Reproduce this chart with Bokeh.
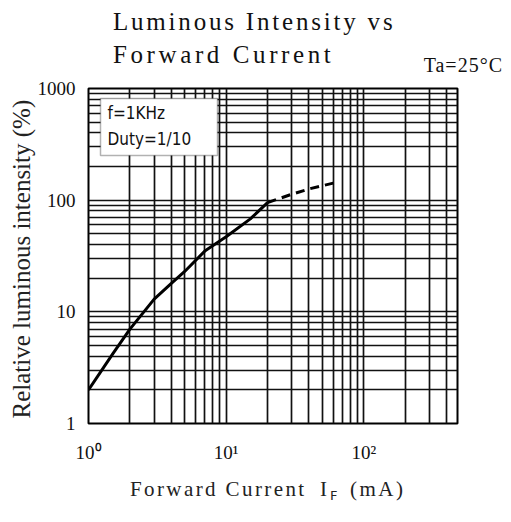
from bokeh.plotting import figure
from bokeh.models import FixedTicker, Label, BoxAnnotation, Range1d, Div
from bokeh.layouts import column
from bokeh.embed import file_html
from bokeh.resources import INLINE

# ---- data ----
solid_x = [1, 1.5, 2, 3, 4, 5, 7, 10, 15, 20]
solid_y = [2, 4.2, 7, 13, 18, 23, 35, 47, 68, 95]
dash_x = [20, 30, 40, 60]
dash_y = [95, 113, 126, 142]

x_major = [1, 10, 100]
x_minor = [2, 3, 4, 5, 6, 7, 8, 9, 20, 30, 40, 50, 60, 70, 80, 90, 200, 300, 400]
y_major = [1, 10, 100, 1000]
y_minor = [2, 3, 4, 5, 6, 7, 8, 9, 20, 30, 40, 50, 60, 70, 80, 90,
           200, 300, 400, 500, 600, 700, 800, 900]
x_labels = {1: "10\u2070", 10: "10\u00b9", 100: "10\u00b2"}
y_labels = {1: "1", 10: "10", 100: "100", 1000: "1000"}

title1 = "Luminous Intensity vs"
title2 = "Forward Current"
cond = "Ta=25\u00b0C"
ylab = "Relative luminous intensity  (%)"
xlab_main = "Forward Current"
xlab_sym = "I"
xlab_sub = "F"
xlab_unit = "(mA)"
legend_lines = ["f=1KHz", "Duty=1/10"]

SERIF = "Liberation Serif"
W = 505
TOP_H = 78
BOT_H = 38

# ---- top: titles (HTML) ----
top_html = (
    f'<div style="position:relative;width:{W}px;height:{TOP_H}px;'
    f'font-family:\'{SERIF}\',serif;color:#111;">'
    f'<span style="position:absolute;left:113px;top:8px;font-size:25px;line-height:28px;'
    f'letter-spacing:2.8px;white-space:nowrap;">{title1}</span>'
    f'<span style="position:absolute;left:113px;top:41px;font-size:25px;line-height:28px;'
    f'letter-spacing:3.6px;white-space:nowrap;">{title2}</span>'
    f'<span style="position:absolute;right:2px;top:53px;font-size:20px;line-height:24px;'
    f'letter-spacing:1px;white-space:nowrap;">{cond}</span>'
    '</div>'
)
top = Div(text=top_html, width=W, height=TOP_H, margin=0)

# ---- main plot ----
p = figure(width=W, height=390, x_axis_type="log", y_axis_type="log",
           x_range=Range1d(1, 480), y_range=Range1d(1, 1000),
           output_backend="svg", toolbar_location=None,
           min_border_left=88, min_border_right=48,
           min_border_top=10, min_border_bottom=45, margin=0)
p.background_fill_color = "white"
p.border_fill_color = "white"
p.outline_line_color = "black"
p.outline_line_width = 2

xt = FixedTicker(ticks=x_major, minor_ticks=x_minor)
yt = FixedTicker(ticks=y_major, minor_ticks=y_minor)
p.xaxis.ticker = xt
p.yaxis.ticker = yt
p.xgrid.ticker = xt
p.ygrid.ticker = yt
for g in (p.xgrid, p.ygrid):
    g.grid_line_color = "#111111"
    g.grid_line_width = 1.7
    g.minor_grid_line_color = "#111111"
    g.minor_grid_line_width = 1.7

for ax in (p.xaxis, p.yaxis):
    ax.axis_line_color = None
    ax.major_tick_line_color = None
    ax.minor_tick_line_color = None
    ax.major_label_text_font = SERIF
    ax.major_label_text_font_size = "19px"
    ax.major_label_text_color = "#111111"
p.xaxis.major_label_overrides = x_labels
p.yaxis.major_label_overrides = y_labels
p.xaxis.major_label_standoff = 12
p.yaxis.major_label_standoff = 7
p.yaxis.axis_label = ylab
p.yaxis.axis_label_text_font = SERIF
p.yaxis.axis_label_text_font_size = "25px"
p.yaxis.axis_label_text_font_style = "normal"
p.yaxis.axis_label_text_color = "#222222"
p.yaxis.axis_label_standoff = 0

p.line(solid_x, solid_y, line_color="black", line_width=3)
p.line(dash_x, dash_y, line_color="black", line_width=3, line_dash="9 6")

# legend box inside the frame
p.add_layout(BoxAnnotation(left=12, right=129, top=325, bottom=268,
                           left_units="screen", right_units="screen",
                           top_units="screen", bottom_units="screen",
                           fill_color="white", fill_alpha=1.0,
                           line_color="black", line_width=1.5))
p.add_layout(Label(x=19, y=311, x_units="screen", y_units="screen", text=legend_lines[0],
                   text_font="DejaVu Sans Condensed", text_font_size="17px",
                   text_baseline="middle", text_color="#111111"))
p.add_layout(Label(x=19, y=285, x_units="screen", y_units="screen", text=legend_lines[1],
                   text_font="DejaVu Sans Condensed", text_font_size="17px",
                   text_baseline="middle", text_color="#111111"))

# ---- bottom: x label with subscript (HTML) ----
bot_html = (
    f'<div style="position:relative;width:{W}px;height:{BOT_H}px;'
    f'font-family:\'{SERIF}\',serif;color:#222;">'
    f'<span style="position:absolute;left:130px;top:9px;font-size:21px;line-height:24px;'
    f'letter-spacing:2.4px;white-space:nowrap;">{xlab_main}</span>'
    f'<span style="position:absolute;left:320px;top:9px;font-size:21px;line-height:24px;'
    f'white-space:nowrap;">{xlab_sym}</span>'
    f'<span style="position:absolute;left:330px;top:16px;font-family:\'DejaVu Sans\',sans-serif;'
    f'font-size:13px;line-height:24px;white-space:nowrap;">{xlab_sub}</span>'
    f'<span style="position:absolute;left:350px;top:9px;font-size:21px;line-height:24px;'
    f'letter-spacing:2.5px;white-space:nowrap;">{xlab_unit}</span>'
    '</div>'
)
bot = Div(text=bot_html, width=W, height=BOT_H, margin=0)

layout = column(top, p, bot, spacing=0)
open("out.html", "w").write(file_html(layout, INLINE))
